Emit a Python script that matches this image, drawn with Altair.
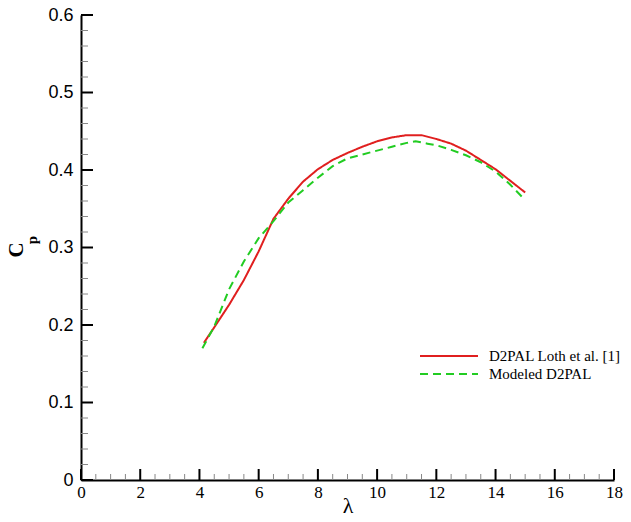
import altair as alt
import pandas as pd

series_names = ["D2PAL Loth et al. [1]", "Modeled D2PAL"]

red_x = [4.15, 4.5, 5.0, 5.5, 6.0, 6.5, 7.0, 7.5, 8.0, 8.5, 9.0, 9.5, 10.0, 10.5, 11.0, 11.5, 12.0, 12.5, 13.0, 13.5, 14.0, 14.5, 15.0]
red_y = [0.177, 0.197, 0.226, 0.258, 0.295, 0.337, 0.363, 0.385, 0.401, 0.413, 0.422, 0.430, 0.437, 0.442, 0.445, 0.445, 0.440, 0.434, 0.425, 0.413, 0.401, 0.386, 0.371]

green_x = [4.1, 4.5, 5.0, 5.5, 6.0, 6.5, 7.0, 7.5, 8.0, 8.5, 9.0, 9.5, 10.0, 10.5, 11.0, 11.3, 11.7, 12.0, 12.5, 13.0, 13.5, 14.0, 14.5, 14.93]
green_y = [0.170, 0.198, 0.246, 0.282, 0.312, 0.334, 0.358, 0.374, 0.390, 0.405, 0.415, 0.420, 0.425, 0.430, 0.435, 0.437, 0.434, 0.432, 0.426, 0.419, 0.410, 0.398, 0.381, 0.364]

x_major = [0, 2, 4, 6, 8, 10, 12, 14, 16, 18]
x_minor = [0.5, 1, 1.5, 2.5, 3, 3.5, 4.5, 5, 5.5, 6.5, 7, 7.5, 8.5, 9, 9.5,
           10.5, 11, 11.5, 12.5, 13, 13.5, 14.5, 15, 15.5, 16.5, 17, 17.5]
y_major = [0, 0.1, 0.2, 0.3, 0.4, 0.5, 0.6]
y_minor = [0.02, 0.04, 0.06, 0.08, 0.12, 0.14, 0.16, 0.18, 0.22, 0.24, 0.26, 0.28,
           0.32, 0.34, 0.36, 0.38, 0.42, 0.44, 0.46, 0.48, 0.52, 0.54, 0.56, 0.58]

y_title_main = "C"
y_title_sub = "p"

W, H = 533, 465

df = pd.concat([
    pd.DataFrame({"x": red_x, "y": red_y, "series": series_names[0]}),
    pd.DataFrame({"x": green_x, "y": green_y, "series": series_names[1]}),
], ignore_index=True)

xs = alt.Scale(domain=[0, 18], nice=False, zero=False)
ys = alt.Scale(domain=[0, 0.6], nice=False, zero=False)

SERIF = "Liberation Serif, Times New Roman, serif"
SANS = "Liberation Sans, Arial, sans-serif"

x_axis = alt.Axis(values=x_major, title="λ", grid=False, ticks=False, tickSize=0,
                  domainColor="black", domainWidth=2,
                  labelFont=SERIF, labelFontSize=17, labelColor="black",
                  labelPadding=4, labelFlush=False,
                  titleFont=SERIF, titleFontSize=22, titleFontWeight="normal",
                  titleColor="black", titleY=32, titleBaseline="alphabetic")
y_axis = alt.Axis(values=y_major, format=".1~f", title=None, grid=False, ticks=False, tickSize=0,
                  domainColor="black", domainWidth=2,
                  labelFont=SANS, labelFontSize=18, labelColor="black",
                  labelPadding=8, labelFlush=False)

def X(field="x"):
    return alt.X(f"{field}:Q", scale=xs, axis=x_axis)

def Y(field="y"):
    return alt.Y(f"{field}:Q", scale=ys, axis=y_axis)

legend = alt.Legend(title=None, orient="none", legendX=338, legendY=332,
                    symbolType="stroke", symbolSize=3364, symbolStrokeWidth=2,
                    clipHeight=18, rowPadding=0,
                    labelFont=SERIF, labelFontSize=15, labelColor="black",
                    labelOffset=10, padding=0, labelLimit=300)

lines = alt.Chart(df).mark_line(strokeWidth=2).encode(
    x=X(), y=Y(),
    color=alt.Color("series:N", scale=alt.Scale(domain=series_names, range=["#e01f1f", "#22cc22"]), legend=legend),
    strokeDash=alt.StrokeDash("series:N", scale=alt.Scale(domain=series_names, range=[[1, 0], [8, 5]]), legend=legend),
)

xmaj = alt.Chart(pd.DataFrame({"x": x_major})).mark_rule(color="black", strokeWidth=2).encode(
    x=X(), y=alt.value(H), y2=alt.value(H - 11))
xmin = alt.Chart(pd.DataFrame({"x": x_minor})).mark_rule(color="#888888", strokeWidth=1).encode(
    x=X(), y=alt.value(H), y2=alt.value(H - 6))
ymaj = alt.Chart(pd.DataFrame({"y": y_major})).mark_rule(color="black", strokeWidth=2).encode(
    y=Y(), x=alt.value(0), x2=alt.value(12))
ymin = alt.Chart(pd.DataFrame({"y": y_minor})).mark_rule(color="#888888", strokeWidth=1).encode(
    y=Y(), x=alt.value(0), x2=alt.value(7))

title_c = alt.Chart(pd.DataFrame({"t": [y_title_main]})).mark_text(
    font=SERIF, fontSize=21, fontWeight="bold", angle=270, align="center", baseline="middle", color="black"
).encode(text="t:N", x=alt.value(-64), y=alt.value(235))
title_p = alt.Chart(pd.DataFrame({"t": [y_title_sub]})).mark_text(
    font=SERIF, fontSize=15, fontWeight="bold", angle=270, align="center", baseline="middle", color="black"
).encode(text="t:N", x=alt.value(-49), y=alt.value(225))

chart = alt.layer(xmin, xmaj, ymin, ymaj, lines, title_c, title_p).properties(
    width=W, height=H, autosize="none",
    padding={"left": 73, "top": 7, "right": 9, "bottom": 34},
    background="white",
).configure_view(stroke=None)

chart.save("out.html", embed_options={"renderer": "svg", "actions": False})
